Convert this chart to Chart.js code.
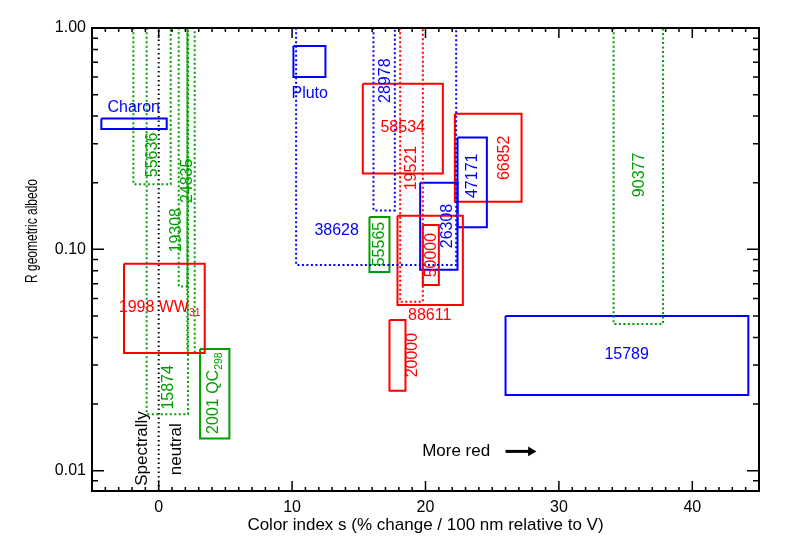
<!DOCTYPE html>
<html>
<head>
<meta charset="utf-8">
<script src="https://cdn.jsdelivr.net/npm/chart.js@4/dist/chart.umd.min.js"></script>
<style>
  html, body { margin: 0; background: #fff; }
</style>
</head>
<body>
<canvas id="albedo-chart" width="786" height="550"></canvas>
<script>
// objects: colour index range (sLo..sHi) and R albedo range (aLo..aHi), null = open above the plot
const names = ["Charon", "Pluto", "38628", "28978", "58534", "19521", "88611", "50000", "26308", "47171",
               "66852", "90377", "15789", "20000", "55565", "1998 WW", "2001 QC", "55636", "15874", "19308", "24835"];
const subs  = ["", "", "", "", "", "", "", "", "", "", "", "", "", "", "", "31", "298", "", "", "", ""];
const sLo = [-4.3, 10.1, 10.3, 16.1, 15.3, 18.1, 17.9, 19.8, 19.6, 22.4, 22.2, 34.1, 26.0, 17.3, 15.8, -2.6, 3.1, -1.9, -0.9, 1.5, 2.15];
const sHi = [0.6, 12.5, 22.3, 17.7, 21.3, 19.8, 22.8, 21.0, 22.4, 24.6, 27.2, 37.8, 44.2, 18.5, 17.3, 3.45, 5.3, 0.9, 2.2, 2.15, 2.7];
const aLo = [0.35, 0.60, 0.085, 0.15, 0.22, 0.058, 0.056, 0.069, 0.081, 0.126, 0.164, 0.046, 0.022, 0.023, 0.079, 0.034, 0.014, 0.197, 0.018, 0.068, 0.034];
const aHi = [0.39, 0.83, null, null, 0.56, null, 0.142, 0.129, 0.20, 0.32, 0.41, null, 0.050, 0.048, 0.140, 0.086, 0.0355, null, null, null, null];

// where each name is written (data units) and whether it runs upwards
const labelS = [-1.87, 11.32, 13.34, 17.02, 18.29, 18.97, 20.31, 20.46, 21.66, 23.54, 25.94, 36.06, 35.08, 19.04, 16.57, 0.07, 4.12, -0.45, 0.75, 1.35, 2.17];
const labelA = [0.435, 0.504, 0.122, 0.578, 0.354, 0.233, 0.0504, 0.0942, 0.1275, 0.215, 0.259, 0.217, 0.0336, 0.0333, 0.1057, 0.0543, 0.0224, 0.267, 0.0238, 0.122, 0.204];
const labelUp = [false, false, false, true, false, true, false, true, true, true, true, true, false, true, true, false, true, true, true, true, true];

const xTicks = [0, 10, 20, 30, 40];
const yTicks = [0.01, 0.1, 1.0];

// styles
const colorOf = ["b", "b", "b", "b", "r", "r", "r", "r", "b", "b", "r", "g", "b", "r", "g", "r", "g", "g", "g", "g", "g"];
const dotted  = [false, false, true, true, false, true, false, false, false, false, false, true, false, false, false, false, false, true, true, true, true];
const palette = { r: "#ff0000", b: "#0000ff", g: "#00a000" };
const OPEN_TOP = 1.6;
const FONT = "'Liberation Sans', Arial, sans-serif";

Chart.defaults.font.family = FONT;

const boxes = names.map((n, i) => {
  const top = aHi[i] === null ? OPEN_TOP : aHi[i];
  return {
    label: n,
    data: [
      { x: sLo[i], y: top }, { x: sLo[i], y: aLo[i] }, { x: sHi[i], y: aLo[i] },
      { x: sHi[i], y: top }, { x: sLo[i], y: top }
    ],
    showLine: true,
    borderColor: palette[colorOf[i]],
    borderWidth: 2,
    borderDash: dotted[i] ? [2, 2.5] : [],
    pointRadius: 0,
    fill: false
  };
});

// spectrally neutral line at s = 0
boxes.push({
  label: "neutral",
  data: [{ x: 0, y: 0.0081 }, { x: 0, y: 1.0 }],
  showLine: true, borderColor: "#000", borderWidth: 2, borderDash: [1.5, 3], pointRadius: 0
});

// "More red" arrow
boxes.push({
  label: "arrow",
  data: [{ x: 26.0, y: 0.01223 }, { x: 27.9, y: 0.01223 }],
  showLine: true, borderColor: "#000", borderWidth: 3,
  pointRadius: [0, 5.5], pointStyle: "triangle", pointRotation: 90,
  pointBackgroundColor: "#000", pointBorderWidth: 0
});

function drawLabel(ctx, text, sub, px, py, up, size) {
  ctx.save();
  ctx.translate(px, py);
  if (up) ctx.rotate(-Math.PI / 2);
  ctx.textBaseline = "middle";
  ctx.font = size + "px " + FONT;
  const w1 = ctx.measureText(text).width;
  let w2 = 0;
  if (sub) {
    ctx.font = (size * 0.65) + "px " + FONT;
    w2 = ctx.measureText(sub).width;
  }
  const start = -(w1 + w2) / 2;
  ctx.textAlign = "left";
  ctx.font = size + "px " + FONT;
  ctx.fillText(text, start, 0);
  if (sub) {
    ctx.font = (size * 0.65) + "px " + FONT;
    ctx.fillText(sub, start + w1, 5);
  }
  ctx.restore();
}

const frameAndText = {
  id: "frameAndText",
  afterDatasetsDraw(chart) {
    const { ctx, chartArea: a, scales: { x, y } } = chart;
    ctx.save();

    // object names
    names.forEach((n, i) => {
      ctx.fillStyle = palette[colorOf[i]];
      drawLabel(ctx, n, subs[i], x.getPixelForValue(labelS[i]), y.getPixelForValue(labelA[i]), labelUp[i], 16);
    });
    ctx.fillStyle = "#000";
    drawLabel(ctx, "Spectrally", "", x.getPixelForValue(-1.2), y.getPixelForValue(0.0126), true, 17);
    drawLabel(ctx, "neutral", "", x.getPixelForValue(1.35), y.getPixelForValue(0.0125), true, 17);
    drawLabel(ctx, "More red", "", x.getPixelForValue(22.3), y.getPixelForValue(0.01223), false, 17);

    // frame with inward ticks on all four sides
    ctx.strokeStyle = "#000";
    ctx.lineWidth = 2;
    ctx.strokeRect(a.left, a.top, a.right - a.left, a.bottom - a.top);
    ctx.lineWidth = 1.5;
    ctx.beginPath();
    for (let v = -5; v <= 45; v++) {
      const px = x.getPixelForValue(v);
      const len = v % 10 === 0 ? 10 : 4;
      ctx.moveTo(px, a.bottom); ctx.lineTo(px, a.bottom - len);
      ctx.moveTo(px, a.top); ctx.lineTo(px, a.top + len);
    }
    [0.001, 0.01, 0.1].forEach(d => {
      for (let m = 1; m <= 9; m++) {
        const v = d * m;
        if (v < 0.0081) continue;
        const py = y.getPixelForValue(v);
        const len = m === 1 ? 12 : 6;
        ctx.moveTo(a.left, py); ctx.lineTo(a.left + len, py);
        ctx.moveTo(a.right, py); ctx.lineTo(a.right - len, py);
      }
    });
    ctx.stroke();

    // axis titles
    ctx.fillStyle = "#000";
    ctx.textAlign = "center";
    ctx.textBaseline = "middle";
    ctx.font = "17px " + FONT;
    ctx.fillText("Color index s (% change / 100 nm relative to V)", (a.left + a.right) / 2, 525, 366);
    ctx.save();
    ctx.translate(32, 231);
    ctx.rotate(-Math.PI / 2);
    ctx.font = "17px " + FONT;
    ctx.fillText("R geometric albedo", 0, 0, 104);
    ctx.restore();

    ctx.restore();
  }
};

const albedoChart = new Chart(document.querySelector("#albedo-chart"), {
  type: "scatter",
  data: { datasets: boxes },
  options: {
    responsive: false,
    animation: false,
    layout: { padding: { top: 28, right: 27, left: 0, bottom: 0 } },
    plugins: { legend: { display: false }, tooltip: { enabled: false } },
    scales: {
      x: {
        type: "linear", min: -5, max: 45,
        afterFit: (s) => { s.height = 59; },
        afterBuildTicks: (s) => { s.ticks = xTicks.map(v => ({ value: v })); },
        ticks: { color: "#000", font: { size: 16 }, padding: 7, maxRotation: 0, callback: (v) => String(v) },
        grid: { display: false, drawTicks: false },
        border: { display: false }
      },
      y: {
        type: "logarithmic", min: 0.0081, max: 1.0,
        afterFit: (s) => { s.width = 92; },
        afterBuildTicks: (s) => { s.ticks = yTicks.map(v => ({ value: v })); },
        ticks: { color: "#000", font: { size: 16 }, padding: 6, callback: (v) => Number(v).toFixed(2) },
        grid: { display: false, drawTicks: false },
        border: { display: false }
      }
    }
  },
  plugins: [frameAndText]
});
</script>
</body>
</html>
